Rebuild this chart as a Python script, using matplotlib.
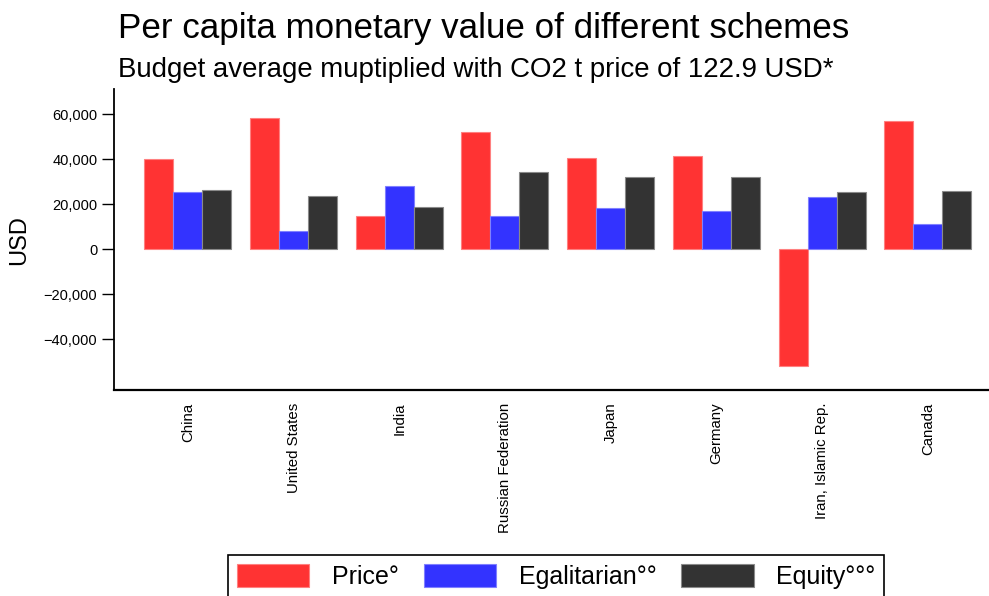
import matplotlib
matplotlib.use("Agg")
import matplotlib.pyplot as plt
import numpy as np

countries = ["China", "United States", "India", "Russian Federation", "Japan",
             "Germany", "Iran, Islamic Rep.", "Canada"]
price = [40000, 58500, 15000, 52000, 40600, 41500, -51700, 57200]
egalitarian = [25500, 8300, 28000, 15000, 18400, 16900, 23300, 11300]
equity = [26400, 23900, 19000, 34500, 32000, 32000, 25300, 25900]
series_names = ["Price°", "Egalitarian°°", "Equity°°°"]
colors = ["#FF3333", "#3333FF", "#333333"]
edge_colors = ["#FF8080", "#8080FF", "#8A8A8A"]
yticks = [-40000, -20000, 0, 20000, 40000, 60000]

plt.rcParams['font.family'] = ['Liberation Sans', 'DejaVu Sans']

W, H = 989, 596
fig = plt.figure(figsize=(W / 100, H / 100), dpi=100)
ax = fig.add_axes([114 / W, (596 - 390) / H, 888 / W, (390 - 89.3) / H])

x = np.arange(len(countries))
bw = 0.2745
handles = []
for i, (vals, c, ec, name) in enumerate(zip([price, egalitarian, equity], colors, edge_colors, series_names)):
    b = ax.bar(x + (i - 1) * bw, vals, width=bw, color=c, edgecolor=ec, linewidth=0.8, label=name)
    handles.append(b)

ax.set_xlim(-0.698, 7.702)
ax.set_ylim(-62530, 71100)
ax.set_yticks(yticks)
ax.set_yticklabels([f"{v:,}".replace("-", "\u2212") for v in yticks], fontsize=10.5)
ax.set_xticks(x)
ax.set_xticklabels(countries, rotation=90, fontsize=10.8, va="top", ha="center")
ax.tick_params(axis="x", length=0, pad=9)
ax.tick_params(axis="y", length=9, width=1, pad=3)
for s in ["top", "right"]:
    ax.spines[s].set_visible(False)
ax.spines["left"].set_linewidth(1.3)
ax.spines["bottom"].set_linewidth(1.6)
ax.set_ylabel("USD", fontsize=17, labelpad=10)

fig.text(118 / W, 1 - 38 / H, "Per capita monetary value of different schemes", fontsize=25.2, ha="left", va="baseline")
fig.text(118 / W, 1 - 77 / H, "Budget average muptiplied with CO2 t price of 122.9 USD*", fontsize=19.9, ha="left", va="baseline")

leg = fig.legend(handles=handles, labels=series_names, loc="upper left",
                 bbox_to_anchor=(228 / W, 1 - 555 / H), ncol=3, frameon=True, fancybox=False,
                 edgecolor="black", framealpha=1,
                 prop={"size": 18},
                 handlelength=2.9, handleheight=1.05, handletextpad=0.9, columnspacing=1.0,
                 borderpad=0.35, borderaxespad=0)
leg.get_frame().set_linewidth(1.2)

fig.savefig("out.png", dpi=100)
